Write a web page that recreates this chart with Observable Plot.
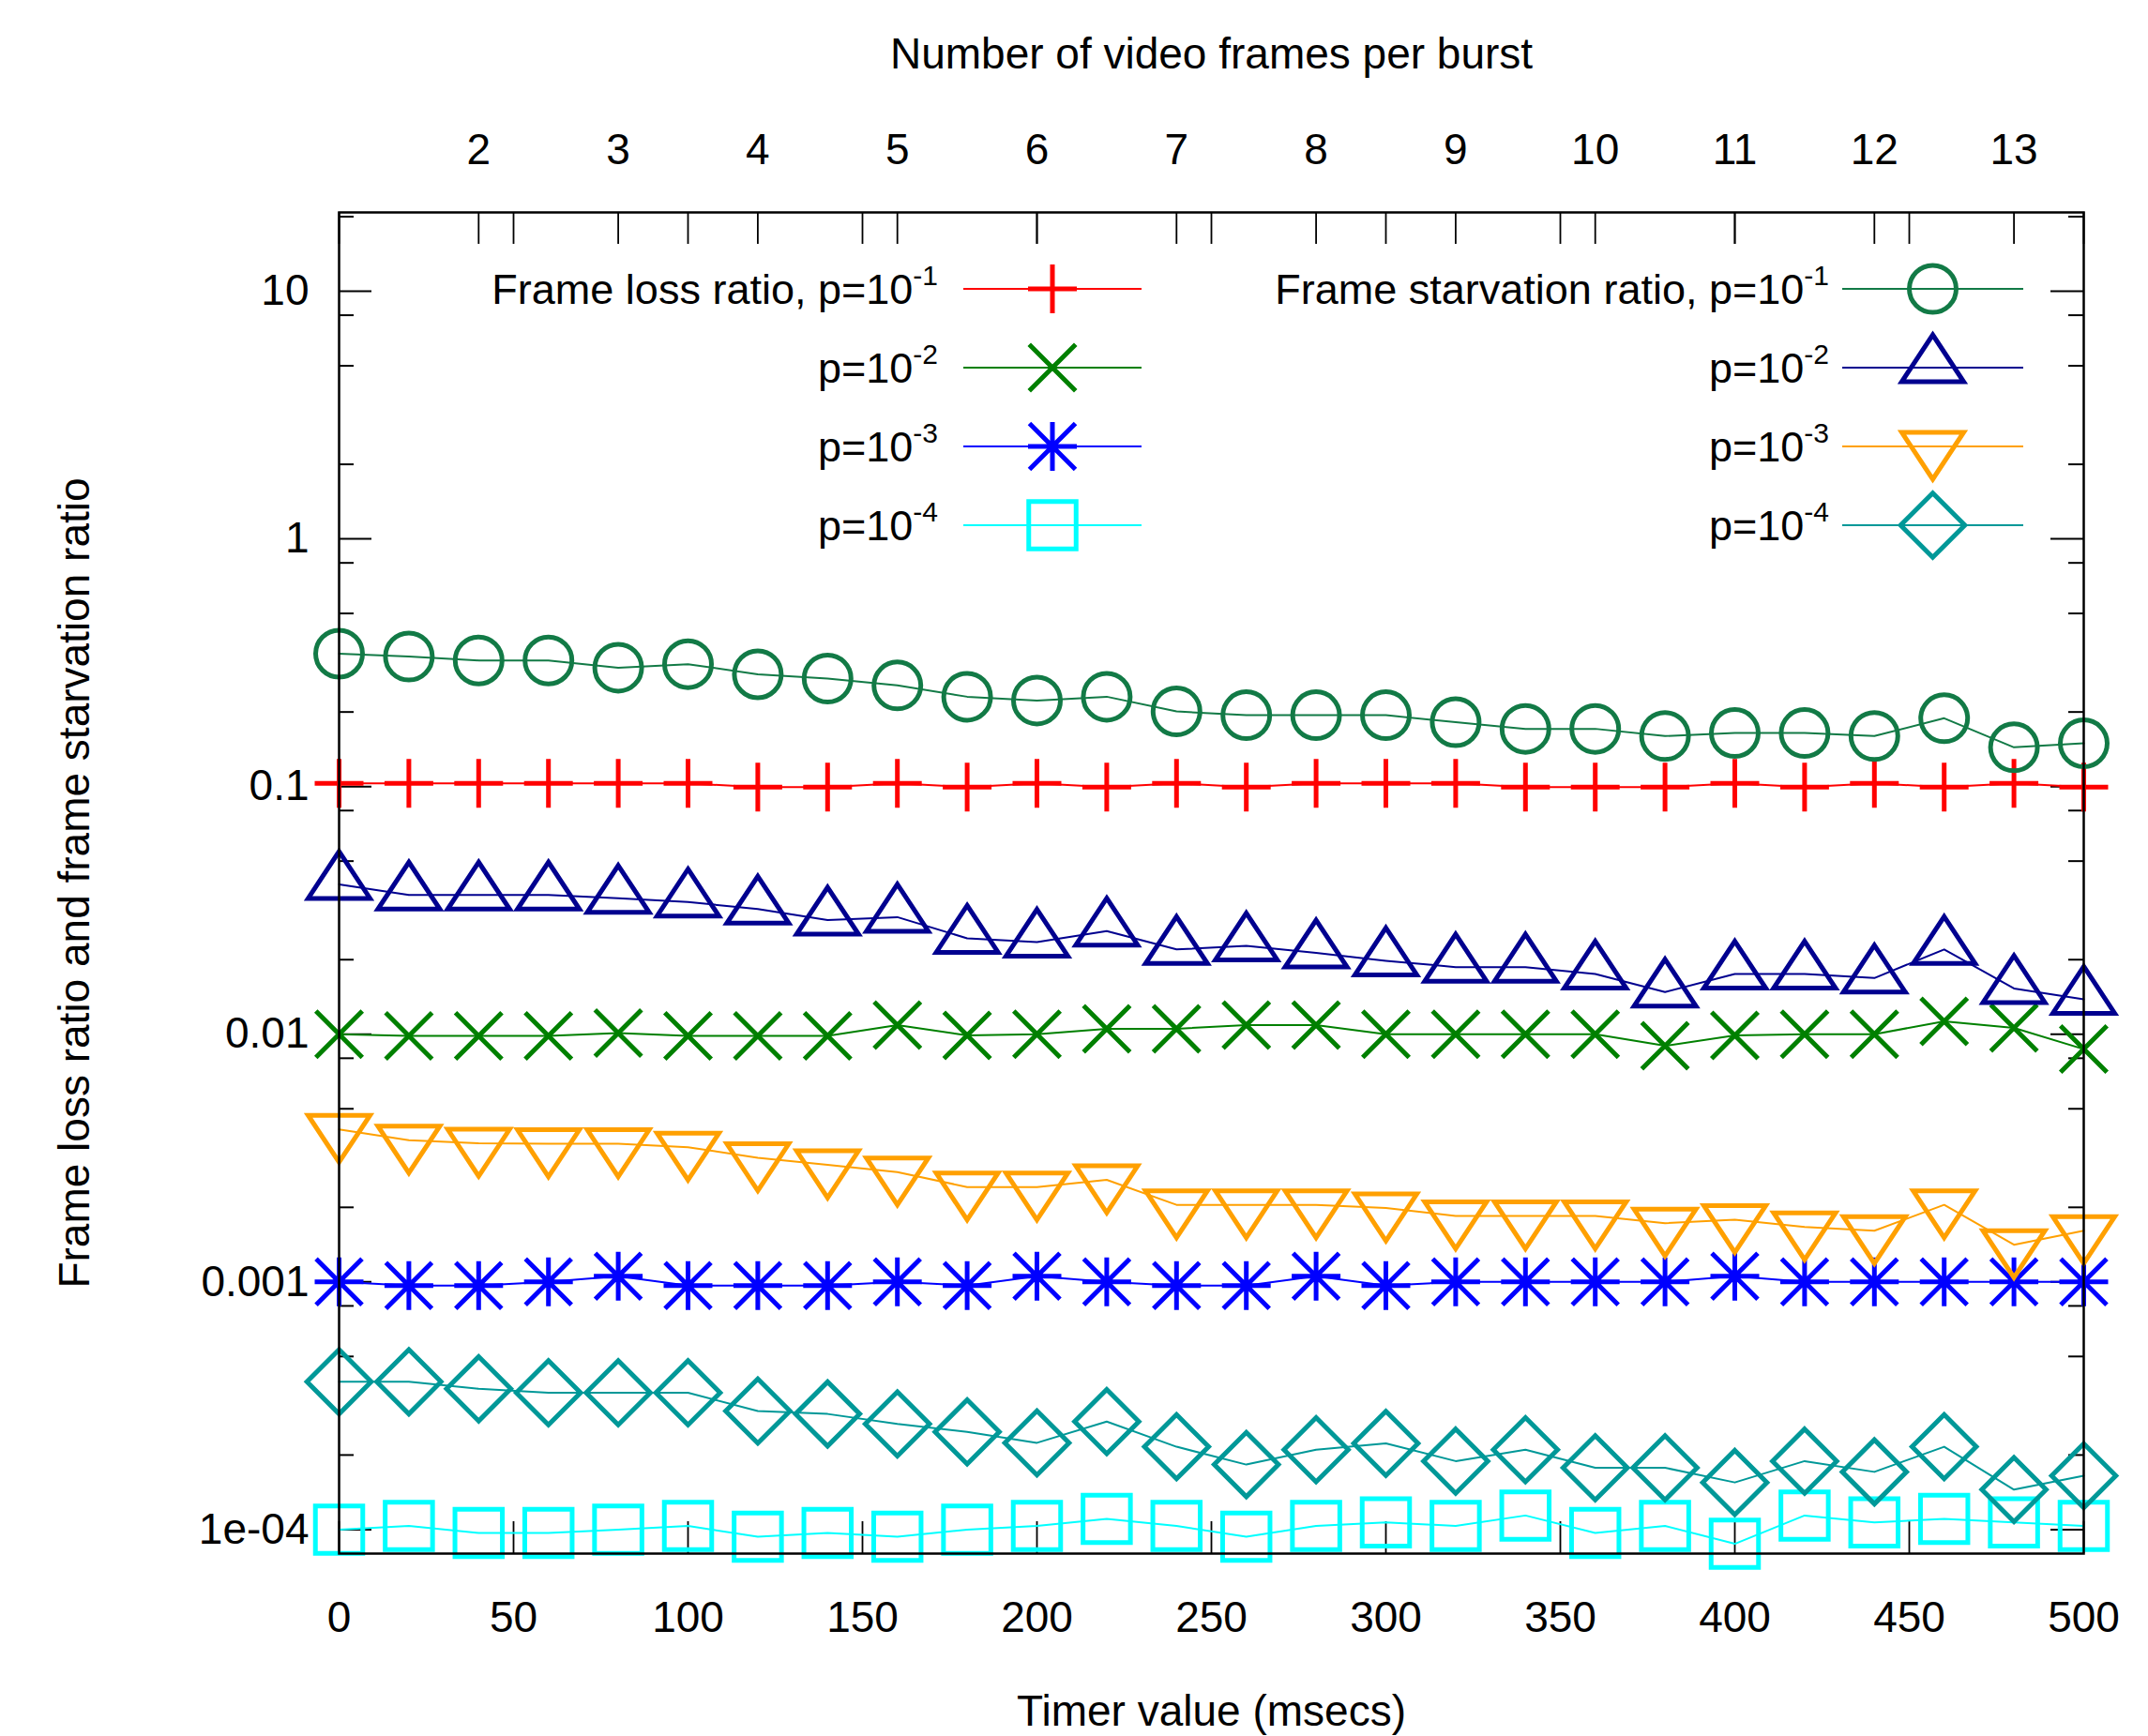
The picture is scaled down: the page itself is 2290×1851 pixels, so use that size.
<!DOCTYPE html>
<html>
<head>
<meta charset="utf-8">
<script src="https://cdn.jsdelivr.net/npm/d3@7"></script>
<script src="https://cdn.jsdelivr.net/npm/@observablehq/plot@0.6"></script>
<style>
html, body { margin: 0; padding: 0; background: #fff; overflow: hidden; }
#wrap { position: relative; width: 2290px; height: 1851px; }
</style>
</head>
<body>
<div id="wrap"></div>
<script>
// ---------------- data ----------------
const timer = [0,20,40,60,80,100,120,140,160,180,200,220,240,260,280,300,320,340,360,380,400,420,440,460,480,500];

const lossP1 = [0.103,0.103,0.103,0.103,0.103,0.103,0.0995,0.0995,0.103,0.0995,0.103,0.0995,0.103,0.0995,0.103,0.103,0.103,0.0995,0.0995,0.0995,0.103,0.0995,0.103,0.0995,0.103,0.0995];
const lossP2 = [0.0100,0.00984,0.00984,0.00984,0.0101,0.00984,0.00984,0.00984,0.01089,0.0099,0.0100,0.01052,0.01052,0.01089,0.01089,0.0100,0.0100,0.0100,0.0100,0.00898,0.0099,0.0100,0.0100,0.01128,0.0106,0.00871];
const lossP3 = [0.001,0.000966,0.000966,0.001,0.001054,0.000966,0.000966,0.000966,0.001,0.000966,0.001054,0.001,0.000966,0.000966,0.001054,0.000966,0.001,0.001,0.001,0.001,0.001054,0.001,0.001,0.001,0.001,0.001];
const lossP4 = [0.0001,0.0001034,0.0000969,0.0000969,0.0001,0.0001034,0.0000936,0.0000969,0.0000936,0.0001,0.0001034,0.0001104,0.0001034,0.0000936,0.0001034,0.000107,0.0001034,0.000114,0.0000969,0.0001034,0.0000876,0.000114,0.000107,0.0001104,0.000107,0.0001034];

const starvP1 = [0.344,0.335,0.323,0.323,0.302,0.312,0.284,0.273,0.256,0.2305,0.2226,0.2305,0.2011,0.1941,0.1941,0.1941,0.182,0.171,0.171,0.160,0.1645,0.1645,0.160,0.1887,0.144,0.1494];
const starvP2 = [0.0403,0.0365,0.0365,0.0365,0.0354,0.0342,0.0320,0.0289,0.0297,0.0244,0.02355,0.0261,0.0220,0.02274,0.0213,0.0198,0.01867,0.01867,0.0175,0.0148,0.0175,0.0175,0.01686,0.0220,0.0153,0.01384];
const starvP3 = [0.00413,0.003735,0.003627,0.00361,0.00361,0.0035,0.00317,0.002967,0.002777,0.002415,0.002415,0.002582,0.002047,0.002047,0.002047,0.001987,0.001847,0.001847,0.001847,0.001727,0.001784,0.001668,0.00161,0.002047,0.001413,0.00161];
const starvP4 = [0.000395,0.000395,0.00037,0.000357,0.000357,0.000357,0.000301,0.000293,0.000267,0.000248,0.000224,0.000273,0.000216,0.000183,0.00021,0.000223,0.000189,0.00021,0.0001776,0.0001776,0.000155,0.000189,0.000171,0.000216,0.000145,0.000165];

const xTicks = [0,50,100,150,200,250,300,350,400,450,500];
const frameTicks = [2,3,4,5,6,7,8,9,10,11,12,13];
const msecPerFrame = 40;
const yMajorTicks = [10,1,0.1,0.01,0.001,0.0001];
const yTickLabels = ["10","1","0.1","0.01","0.001","1e-04"];
const yMinorTicks = [20,8,5,2,0.8,0.5,0.2,0.08,0.05,0.02,0.008,0.005,0.002,0.0008,0.0005,0.0002];

const xTitle = "Timer value (msecs)";
const x2Title = "Number of video frames per burst";
const yTitle = "Frame loss ratio and frame starvation ratio";

const lossLabels = ["Frame loss ratio, p=10","p=10","p=10","p=10"];
const starvLabels = ["Frame starvation ratio, p=10","p=10","p=10","p=10"];
const exponents = ["-1","-2","-3","-4"];

// ---------------- symbols (gnuplot-like) ----------------
const rad = size => Math.sqrt(size / Math.PI);
const sym = {
  plus: {draw(c, size){const s = rad(size)*1.04; c.moveTo(-s,0); c.lineTo(s,0); c.moveTo(0,-s); c.lineTo(0,s);}},
  times: {draw(c, size){const s = rad(size)*0.99; c.moveTo(-s,-s); c.lineTo(s,s); c.moveTo(-s,s); c.lineTo(s,-s);}},
  asterisk: {draw(c, size){const r = rad(size); const s = r*1.04, d = r*0.98;
    c.moveTo(-s,0); c.lineTo(s,0); c.moveTo(0,-s); c.lineTo(0,s);
    c.moveTo(-d,-d); c.lineTo(d,d); c.moveTo(-d,d); c.lineTo(d,-d);}},
  square: {draw(c, size){const s = rad(size)*1.01; c.moveTo(-s,-s); c.lineTo(s,-s); c.lineTo(s,s); c.lineTo(-s,s); c.closePath();}},
  circle: {draw(c, size){const s = rad(size); c.moveTo(s,0); c.arc(0,0,s,0,2*Math.PI); c.closePath();}},
  triUp: {draw(c, size){const s = rad(size); c.moveTo(0,-1.4*s); c.lineTo(1.32*s,0.6*s); c.lineTo(-1.32*s,0.6*s); c.closePath();}},
  triDown: {draw(c, size){const s = rad(size); c.moveTo(0,1.4*s); c.lineTo(1.32*s,-0.6*s); c.lineTo(-1.32*s,-0.6*s); c.closePath();}},
  diamond: {draw(c, size){const s = rad(size)*1.37; c.moveTo(0,-s); c.lineTo(s,0); c.lineTo(0,s); c.lineTo(-s,0); c.closePath();}}
};

const lossSeries = [
  {key:"loss1", values: lossP1, color:"#ff0000", symbol: sym.plus},
  {key:"loss2", values: lossP2, color:"#008000", symbol: sym.times},
  {key:"loss3", values: lossP3, color:"#0000ff", symbol: sym.asterisk},
  {key:"loss4", values: lossP4, color:"#00ffff", symbol: sym.square}
];
const starvSeries = [
  {key:"starv1", values: starvP1, color:"#127a46", symbol: sym.circle},
  {key:"starv2", values: starvP2, color:"#00008f", symbol: sym.triUp},
  {key:"starv3", values: starvP3, color:"#ffa000", symbol: sym.triDown},
  {key:"starv4", values: starvP4, color:"#009898", symbol: sym.diamond}
];
const allSeries = [...lossSeries, ...starvSeries];

// ---------------- layout ----------------
const W = 2290, H = 1851;
const mL = 361, mR = 69, mT = 226, mB = 195;
const fw = W - mL - mR, fh = H - mT - mB;
const FONT = "'Liberation Sans', Arial, Helvetica, sans-serif";
const FS = 46;
const markerR = 25;

const labelMap = new Map(yMajorTicks.map((v, i) => [v, yTickLabels[i]]));

const marks = [];
// ticks (inward)
marks.push(Plot.tickY(yMinorTicks, {y: d => d, stroke: "black", strokeWidth: 2, insetRight: fw - 16}));
marks.push(Plot.tickY(yMinorTicks, {y: d => d, stroke: "black", strokeWidth: 2, insetLeft: fw - 16}));
marks.push(Plot.tickY(yMajorTicks, {y: d => d, stroke: "black", strokeWidth: 2, insetRight: fw - 35}));
marks.push(Plot.tickY(yMajorTicks, {y: d => d, stroke: "black", strokeWidth: 2, insetLeft: fw - 35}));
marks.push(Plot.tickX(xTicks, {x: d => d, stroke: "black", strokeWidth: 1.8, insetTop: fh - 34}));
marks.push(Plot.tickX(xTicks, {x: d => d, stroke: "black", strokeWidth: 1.8, insetBottom: fh - 34}));
marks.push(Plot.tickX(frameTicks, {x: f => (f - 1) * msecPerFrame, stroke: "black", strokeWidth: 1.8, insetBottom: fh - 34}));

// axes labels
marks.push(Plot.axisX(xTicks, {anchor: "bottom", tickSize: 0, tickPadding: 51, fontSize: FS, label: null, tickFormat: d => String(d)}));
marks.push(Plot.axisX(frameTicks.map(f => (f - 1) * msecPerFrame), {anchor: "top", tickSize: 0, tickPadding: 52, fontSize: FS, label: null, tickFormat: d => String(d / msecPerFrame + 1)}));
marks.push(Plot.axisY(yMajorTicks, {anchor: "left", tickSize: 0, tickPadding: 32, fontSize: FS, label: null, tickFormat: d => labelMap.get(d)}));

// titles
marks.push(Plot.text([xTitle], {text: d => d, frameAnchor: "bottom", dy: 169, lineAnchor: "middle", textAnchor: "middle", fontSize: FS}));
marks.push(Plot.text([x2Title], {text: d => d, frameAnchor: "top", dy: -168, lineAnchor: "middle", textAnchor: "middle", fontSize: FS}));
marks.push(Plot.text([yTitle], {text: d => d, frameAnchor: "left", dx: -281, rotate: -90, lineAnchor: "middle", textAnchor: "middle", fontSize: FS}));

// data
for (const s of allSeries) {
  const rows = timer.map((t, i) => ({t, v: s.values[i]}));
  marks.push(Plot.line(rows, {x: "t", y: "v", stroke: s.color, strokeWidth: 2}));
  marks.push(Plot.dot(rows, {x: "t", y: "v", symbol: s.symbol, r: markerR, stroke: s.color, strokeWidth: 5, fill: "none"}));
}

marks.push(Plot.frame({stroke: "black", strokeWidth: 2.5}));

const chart = Plot.plot({
  width: W, height: H,
  marginLeft: mL, marginRight: mR, marginTop: mT, marginBottom: mB,
  x: {domain: [0, 500]},
  y: {type: "log", domain: [8e-5, 20.8]},
  style: {fontFamily: FONT, fontSize: FS + "px", background: "white", color: "black", overflow: "visible"},
  marks
});

const wrap = document.getElementById("wrap");
wrap.appendChild(chart);

// ---------------- legend (key inside the frame) ----------------
const lg = d3.select(wrap).append("svg")
  .attr("width", W).attr("height", H)
  .style("position", "absolute").style("left", "0px").style("top", "0px")
  .style("pointer-events", "none")
  .attr("font-family", FONT);

const blocks = [
  {series: lossSeries, labels: lossLabels, textRight: 1000, x1: 1027, x2: 1217},
  {series: starvSeries, labels: starvLabels, textRight: 1950, x1: 1964, x2: 2157}
];
const rowY0 = 308, rowStep = 84;
blocks.forEach(b => {
  b.series.forEach((s, k) => {
    const y = rowY0 + k * rowStep;
    const t = lg.append("text")
      .attr("x", b.textRight).attr("y", y + 16)
      .attr("text-anchor", "end").attr("font-size", 45).attr("fill", "black");
    t.append("tspan").text(b.labels[k]);
    t.append("tspan").attr("dy", -20).attr("font-size", 30).text(exponents[k]);
    lg.append("line").attr("x1", b.x1).attr("x2", b.x2).attr("y1", y).attr("y2", y)
      .attr("stroke", s.color).attr("stroke-width", 2);
    const p = d3.path();
    s.symbol.draw(p, Math.PI * markerR * markerR);
    lg.append("path").attr("d", p.toString())
      .attr("transform", `translate(${(b.x1 + b.x2) / 2},${y})`)
      .attr("fill", "none").attr("stroke", s.color).attr("stroke-width", 5);
  });
});
</script>
</body>
</html>
